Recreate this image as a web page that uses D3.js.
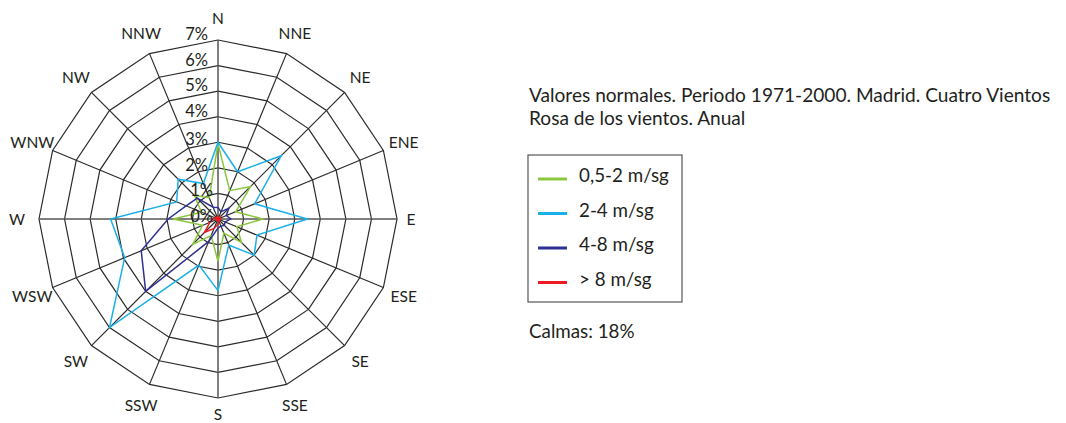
<!DOCTYPE html>
<html>
<head>
<meta charset="utf-8">
<script src="https://cdn.jsdelivr.net/npm/d3@7"></script>
<style>
  body { margin: 0; background: #fff; }
  text { font-family: Lato, "Open Sans", sans-serif; fill: #231f20; }
</style>
</head>
<body>
<div id="chart"></div>
<script>
// directions, clockwise from north
const directions = ['N', 'NNE', 'NE', 'ENE', 'E', 'ESE', 'SE', 'SSE',
                    'S', 'SSW', 'SW', 'WSW', 'W', 'WNW', 'NW', 'NNW'];

// frequency (%) per direction for each speed class
const speed05to2 = [2.95, 1.2, 1.8, 0.75, 1.75, 0.8, 1.3, 0.6, 1.65, 0.7, 1.4, 0.65, 1.75, 0.7, 1.3, 0.9];
const speed2to4  = [3.0, 2.0, 3.5, 1.55, 3.5, 1.65, 2.0, 1.1, 2.8, 1.95, 6.0, 3.95, 4.2, 1.75, 2.2, 1.5];
const speed4to8  = [0.45, 0.3, 0.6, 0.35, 0.5, 0.3, 0.35, 0.3, 0.35, 0.95, 4.0, 3.25, 1.95, 1.35, 1.15, 0.5];
const speedOver8 = [0.1, 0.05, 0.1, 0.05, 0.1, 0.05, 0.1, 0.1, 0.2, 0.4, 0.75, 0.35, 0.2, 0.1, 0.1, 0.05];

const seriesNames = ['0,5-2 m/sg', '2-4 m/sg', '4-8 m/sg', '> 8 m/sg'];
const ringTicks = [0, 1, 2, 3, 4, 5, 6, 7];
const tickLabels = ['0%', '1%', '2%', '3%', '4%', '5%', '6%', '7%'];

const titleLines = ['Valores normales. Periodo 1971-2000. Madrid. Cuatro Vientos',
                    'Rosa de los vientos. Anual'];
const calmas = 'Calmas: 18%';

const colors = ['#8cc63f', '#1cb0e8', '#2e3192', '#ed1c24'];

const width = 1066, height = 423;
const cx = 218, cy = 219, outerR = 179;

const svg = d3.select('#chart')
  .append('svg')
  .attr('width', width)
  .attr('height', height);

svg.append('rect').attr('width', width).attr('height', height).attr('fill', '#fff');

const r = d3.scaleLinear().domain([0, 7]).range([0, outerR]);
const step = 2 * Math.PI / directions.length;
const ang = d => directions.indexOf(d) * step;

const g = svg.append('g').attr('transform', `translate(${cx},${cy})`);

// grid rings (16-gons)
const ringLine = d3.lineRadial().angle(d => ang(d[0])).radius(d => r(d[1])).curve(d3.curveLinearClosed);
g.selectAll('.ring')
  .data(ringTicks.slice(1))
  .join('path')
  .attr('class', 'ring')
  .attr('d', t => ringLine(directions.map(d => [d, t])))
  .attr('fill', 'none')
  .attr('stroke', '#2b2b2b')
  .attr('stroke-width', 1.2);

// spokes
g.selectAll('.spoke')
  .data(directions)
  .join('line')
  .attr('class', 'spoke')
  .attr('x1', 0).attr('y1', 0)
  .attr('x2', d => r(7) * Math.sin(ang(d)))
  .attr('y2', d => -r(7) * Math.cos(ang(d)))
  .attr('stroke', (d, i) => i % 4 === 0 ? '#555' : '#2b2b2b')
  .attr('stroke-width', (d, i) => i % 4 === 0 ? 1.5 : 1.2);

// direction labels
const labelR = 201;
g.selectAll('.dir')
  .data(directions)
  .join('text')
  .attr('class', 'dir')
  .attr('x', d => (d === 'E' ? 193 : labelR) * Math.sin(ang(d)))
  .attr('y', d => Math.min(-labelR * Math.cos(ang(d)), 195))
  .attr('text-anchor', 'middle')
  .attr('dominant-baseline', 'central')
  .attr('font-size', 15.5)
  .text(d => d);

// series
const series = [speed05to2, speed2to4, speed4to8, speedOver8];
const seriesLine = d3.lineRadial()
  .angle((v, i) => ang(directions[i]))
  .radius(v => r(v))
  .curve(d3.curveLinearClosed);

g.selectAll('.series')
  .data(series)
  .join('path')
  .attr('class', 'series')
  .attr('d', s => seriesLine(s))
  .attr('fill', 'none')
  .attr('stroke', (s, i) => colors[i])
  .attr('stroke-width', 1.5)
  .attr('stroke-linejoin', 'miter');

g.append('circle').attr('r', 2.5).attr('fill', colors[3]);

// percentage labels along north spoke
g.selectAll('.tick')
  .data(ringTicks)
  .join('text')
  .attr('class', 'tick')
  .attr('x', t => t < 2 ? -5 : -10)
  .attr('y', t => -r(t) + (t < 4 ? 3 : 0))
  .attr('text-anchor', 'end')
  .attr('font-size', 16.5)
  .text((t, i) => tickLabels[i]);

// title
svg.selectAll('.title')
  .data(titleLines)
  .join('text')
  .attr('class', 'title')
  .attr('x', 529)
  .attr('y', (d, i) => 102 + i * 23)
  .attr('font-size', 19.1)
  .text(d => d);

// legend
const legend = svg.append('g').attr('transform', 'translate(528,155)');
legend.append('rect')
  .attr('width', 154).attr('height', 147)
  .attr('fill', 'none').attr('stroke', '#555').attr('stroke-width', 1.2);
const items = legend.selectAll('.item')
  .data(seriesNames)
  .join('g')
  .attr('class', 'item')
  .attr('transform', (d, i) => `translate(0,${24 + i * 34.5})`);
items.append('line')
  .attr('x1', 10).attr('x2', 39)
  .attr('stroke', (d, i) => colors[i])
  .attr('stroke-width', 3);
items.append('text')
  .attr('x', 51).attr('y', 3)
  .attr('font-size', 18.8)
  .text(d => d);

svg.append('text')
  .attr('x', 529).attr('y', 338)
  .attr('font-size', 18.8)
  .text(calmas);
</script>
</body>
</html>
